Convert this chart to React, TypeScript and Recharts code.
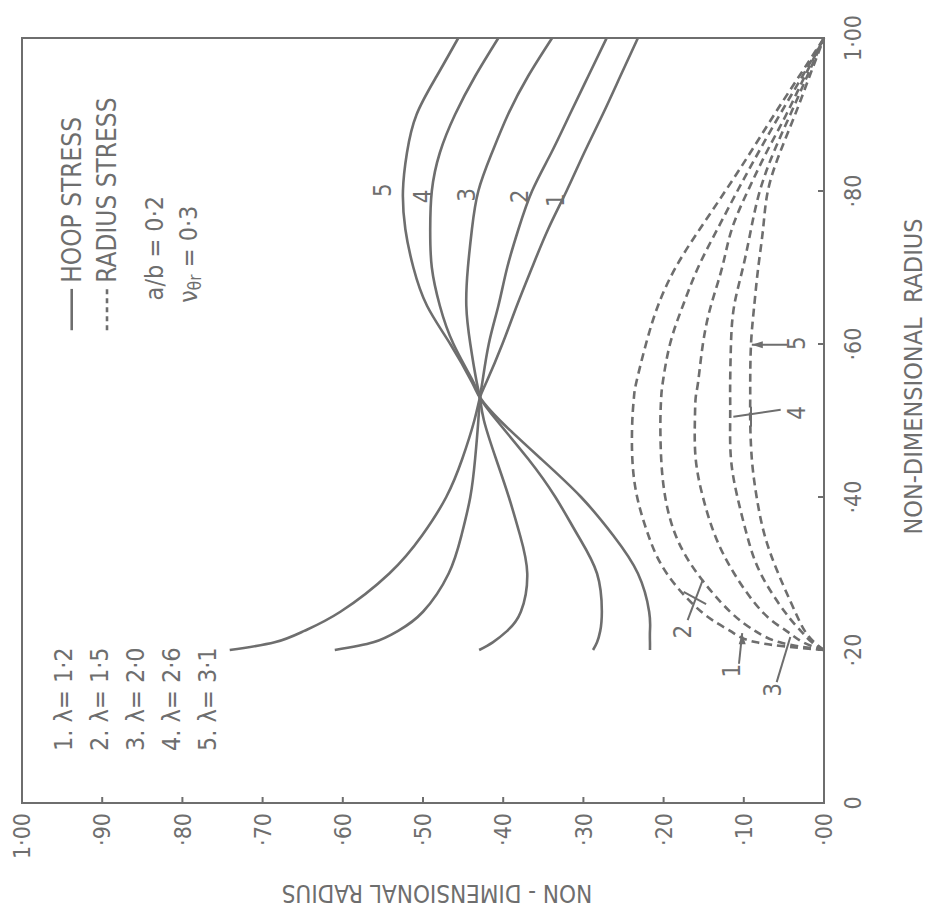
import React from "react";
import { Label, Line, LineChart, ReferenceArea, ReferenceDot, ReferenceLine, XAxis, YAxis } from "recharts";

// non-dimensional radius r/b
const RADII = [0.2, 0.21, 0.225, 0.25, 0.3, 0.35, 0.4, 0.45, 0.5, 0.53, 0.55, 0.6, 0.65, 0.7, 0.75, 0.8, 0.85, 0.9, 0.95, 1.0];

// hoop stress, one array per lambda
const HOOP_1 = [0.741, 0.685, 0.648, 0.603, 0.542, 0.501, 0.471, 0.451, 0.436, 0.429, 0.421, 0.401, 0.383, 0.364, 0.344, 0.321, 0.299, 0.276, 0.254, 0.232];
const HOOP_2 = [0.61, 0.562, 0.531, 0.5, 0.468, 0.452, 0.441, 0.435, 0.431, 0.429, 0.426, 0.418, 0.406, 0.395, 0.381, 0.364, 0.34, 0.317, 0.294, 0.271];
const HOOP_3 = [0.43, 0.413, 0.395, 0.378, 0.37, 0.379, 0.393, 0.409, 0.424, 0.429, 0.433, 0.441, 0.446, 0.444, 0.439, 0.431, 0.414, 0.394, 0.369, 0.339];
const HOOP_4 = [0.288, 0.283, 0.279, 0.277, 0.283, 0.307, 0.335, 0.369, 0.408, 0.429, 0.437, 0.462, 0.479, 0.489, 0.491, 0.489, 0.479, 0.46, 0.435, 0.406];
const HOOP_5 = [0.217, 0.217, 0.217, 0.218, 0.232, 0.263, 0.303, 0.353, 0.404, 0.429, 0.439, 0.466, 0.495, 0.512, 0.522, 0.525, 0.52, 0.508, 0.483, 0.456];

// radial stress
const RADIAL_1 = [0, 0.084, 0.117, 0.153, 0.196, 0.219, 0.233, 0.239, 0.239, 0.237, 0.234, 0.222, 0.207, 0.185, 0.155, 0.123, 0.092, 0.062, 0.031, 0];
const RADIAL_2 = [0, 0.055, 0.086, 0.117, 0.158, 0.185, 0.198, 0.203, 0.204, 0.203, 0.201, 0.192, 0.176, 0.157, 0.133, 0.108, 0.082, 0.055, 0.027, 0];
const RADIAL_3 = [0, 0.026, 0.047, 0.077, 0.112, 0.136, 0.151, 0.16, 0.161, 0.16, 0.157, 0.151, 0.141, 0.127, 0.115, 0.095, 0.072, 0.047, 0.024, 0];
const RADIAL_4 = [0, 0.015, 0.029, 0.049, 0.079, 0.096, 0.108, 0.116, 0.117, 0.117, 0.117, 0.116, 0.112, 0.101, 0.091, 0.08, 0.063, 0.042, 0.021, 0];
const RADIAL_5 = [0, 0.012, 0.024, 0.036, 0.057, 0.074, 0.084, 0.09, 0.092, 0.092, 0.092, 0.091, 0.087, 0.082, 0.076, 0.07, 0.055, 0.036, 0.018, 0];

const RADIUS_TICKS = [0, 0.2, 0.4, 0.6, 0.8, 1];
const RADIUS_TICK_LABELS = ["0", "·20", "·40", "·60", "·80", "1·00"];
const STRESS_TICKS = [0, 0.1, 0.2, 0.3, 0.4, 0.5, 0.6, 0.7, 0.8, 0.9, 1];
const STRESS_TICK_LABELS = ["·00", "·10", "·20", "·30", "·40", "·50", "·60", "·70", "·80", "·90", "1·00"];

const LAMBDA_LABELS = ["1. λ= 1·2", "2. λ= 1·5", "3. λ= 2·0", "4. λ= 2·6", "5. λ= 3·1"];
const CURVE_TAGS = ["1", "2", "3", "4", "5"];

const rows = RADII.map((r, i) => ({
  r,
  h1: HOOP_1[i],
  h2: HOOP_2[i],
  h3: HOOP_3[i],
  h4: HOOP_4[i],
  h5: HOOP_5[i],
  d1: RADIAL_1[i],
  d2: RADIAL_2[i],
  d3: RADIAL_3[i],
  d4: RADIAL_4[i],
  d5: RADIAL_5[i],
}));

const INK = "#6e6e6e";
const FONT = "'DejaVu Sans Condensed', 'Liberation Sans Narrow', 'DejaVu Sans', sans-serif";

const pick = (ticks: number[], labels: string[]) => (v: number) => {
  const i = ticks.findIndex((t) => Math.abs(t - v) < 1e-6);
  return i >= 0 ? labels[i] : "";
};

// annotation placements (r, stress) in data units
const HOOP_TAG_POS = [
  [0.788, 0.334],
  [0.793, 0.379],
  [0.795, 0.445],
  [0.793, 0.5],
  [0.801, 0.55],
];
const RADIAL_TAG_POS = [
  [0.173, 0.115],
  [0.224, 0.176],
  [0.148, 0.064],
  [0.51, 0.034],
  [0.601, 0.034],
];
const LEADERS = [
  [0.182, 0.106, 0.222, 0.102],
  [0.239, 0.17, 0.292, 0.151],
  [0.276, 0.175, 0.26, 0.147],
  [0.158, 0.059, 0.217, 0.042],
  [0.514, 0.054, 0.505, 0.113],
  [0.518, 0.091, 0.492, 0.091],
  [0.599, 0.046, 0.599, 0.09],
];
const LAMBDA_ROW_STRESS = [0.948, 0.903, 0.859, 0.814, 0.769];

const note = (key: string, x: number, y: number, content: React.ReactNode, anchor = "middle", size = 24) => (
  <ReferenceDot
    key={key}
    x={x}
    y={y}
    r={0}
    ifOverflow="visible"
    shape={(p: any) => (
      <text
        x={p.cx}
        y={p.cy}
        textAnchor={anchor}
        dominantBaseline="central"
        fill={INK}
        fontSize={size}
        fontFamily={FONT}
      >
        {content}
      </text>
    )}
  />
);

const arrowHead = (key: string, x: number, y: number, dir: "up" | "right") => (
  <ReferenceDot
    key={key}
    x={x}
    y={y}
    r={0}
    ifOverflow="visible"
    shape={(p: any) => {
      const { cx, cy } = p;
      const pts =
        dir === "up"
          ? `${cx},${cy} ${cx - 3.5},${cy + 11} ${cx + 3.5},${cy + 11}`
          : `${cx},${cy} ${cx - 11},${cy - 3.5} ${cx - 11},${cy + 3.5}`;
      return <polygon points={pts} fill={INK} />;
    }}
  />
);

const XTitle = (props: any) => {
  const vb = props.viewBox;
  return (
    <text
      x={vb.x + vb.width / 2 + 44}
      y={vb.y + 89}
      textAnchor="middle"
      dominantBaseline="central"
      fill={INK}
      fontSize={25}
      fontFamily={FONT}
      style={{ whiteSpace: "pre" }}
    >
      NON-DIMENSIONAL  RADIUS
    </text>
  );
};

const YTitle = (props: any) => {
  const vb = props.viewBox;
  const x = vb.x + 18;
  const y = vb.y + vb.height / 2 + 14;
  return (
    <text
      x={x}
      y={y}
      transform={`rotate(-90 ${x} ${y})`}
      textAnchor="middle"
      dominantBaseline="central"
      fill={INK}
      fontSize={24}
      fontFamily={FONT}
    >
      NON - DIMENSIONAL RADIUS
    </text>
  );
};

export default function App() {
  const hoopKeys = ["h1", "h2", "h3", "h4", "h5"];
  const radialKeys = ["d1", "d2", "d3", "d4", "d5"];

  return (
    <div style={{ position: "absolute", left: 0, top: 0, width: 929, height: 911, overflow: "hidden", background: "#fff" }}>
      <div
        style={{
          position: "absolute",
          left: 0,
          top: 0,
          width: 911,
          height: 929,
          transformOrigin: "0 0",
          transform: "translate(0px, 911px) rotate(-90deg)",
        }}
      >
        <LineChart width={911} height={929} data={rows} margin={{ top: 22, right: 38, bottom: 0, left: 0 }}>
          <XAxis
            type="number"
            dataKey="r"
            domain={[0, 1]}
            ticks={RADIUS_TICKS}
            interval={0}
            tickFormatter={pick(RADIUS_TICKS, RADIUS_TICK_LABELS)}
            height={105}
            tickSize={-6}
            tickMargin={27}
            axisLine={{ stroke: INK, strokeWidth: 2 }}
            tickLine={{ stroke: INK, strokeWidth: 2 }}
            tick={{ fill: INK, fontSize: 23, fontFamily: FONT }}
          >
            <Label content={XTitle} />
          </XAxis>
          <YAxis
            type="number"
            domain={[0, 1]}
            ticks={STRESS_TICKS}
            interval={0}
            tickFormatter={pick(STRESS_TICKS, STRESS_TICK_LABELS)}
            width={108}
            tickSize={-6}
            tickMargin={16}
            axisLine={{ stroke: INK, strokeWidth: 2 }}
            tickLine={{ stroke: INK, strokeWidth: 2 }}
            tick={{ fill: INK, fontSize: 23, fontFamily: FONT }}
          >
            <Label content={YTitle} />
          </YAxis>

          <ReferenceArea x1={0} x2={1} y1={0} y2={1} fill="none" stroke={INK} strokeWidth={2} ifOverflow="visible" />

          {hoopKeys.map((k) => (
            <Line
              key={k}
              type="natural"
              dataKey={k}
              stroke={INK}
              strokeWidth={2.6}
              dot={false}
              activeDot={false}
              isAnimationActive={false}
            />
          ))}
          {radialKeys.map((k) => (
            <Line
              key={k}
              type="natural"
              dataKey={k}
              stroke={INK}
              strokeWidth={2.6}
              strokeDasharray="8 5"
              dot={false}
              activeDot={false}
              isAnimationActive={false}
            />
          ))}

          {/* legend */}
          <ReferenceLine segment={[{ x: 0.618, y: 0.938 }, { x: 0.672, y: 0.938 }]} stroke={INK} strokeWidth={2.6} />
          <ReferenceLine
            segment={[{ x: 0.618, y: 0.894 }, { x: 0.672, y: 0.894 }]}
            stroke={INK}
            strokeWidth={2.6}
            strokeDasharray="5 4"
          />
          {note("hoop", 0.68, 0.938, "HOOP STRESS", "start", 26)}
          {note("radial", 0.68, 0.894, "RADIUS STRESS", "start", 26)}
          {note("ab", 0.657, 0.835, "a/b = 0·2", "start", 25)}
          {note(
            "nu",
            0.654,
            0.793,
            <>
              ν
              <tspan dy={7} fontSize={17}>
                θr
              </tspan>
              <tspan dy={-7}> = 0·3</tspan>
            </>,
            "start",
            25,
          )}
          {LAMBDA_LABELS.map((t, i) => note(`lam${i}`, 0.068, LAMBDA_ROW_STRESS[i], t, "start", 25))}

          {/* curve numbers */}
          {CURVE_TAGS.map((t, i) => note(`ht${i}`, HOOP_TAG_POS[i][0], HOOP_TAG_POS[i][1], t, "middle", 24))}
          {CURVE_TAGS.map((t, i) => note(`rt${i}`, RADIAL_TAG_POS[i][0], RADIAL_TAG_POS[i][1], t, "middle", 24))}
          {LEADERS.map((l, i) => (
            <ReferenceLine
              key={`ld${i}`}
              segment={[{ x: l[0], y: l[1] }, { x: l[2], y: l[3] }]}
              stroke={INK}
              strokeWidth={2}
            />
          ))}
          {arrowHead("a5", 0.599, 0.09, "up")}
          {arrowHead("a1", 0.222, 0.102, "right")}
        </LineChart>
      </div>
    </div>
  );
}
